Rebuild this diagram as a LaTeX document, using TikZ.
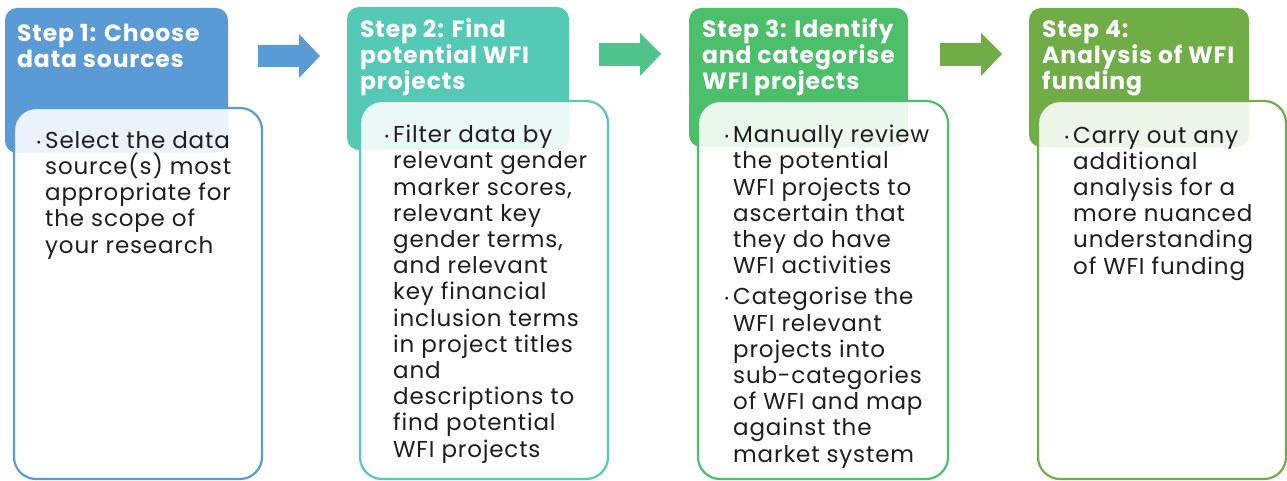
\documentclass[tikz,border=0pt]{standalone}
\usepackage{fontspec}
\setmainfont{Poppins}[LetterSpace=3.6]
\usepackage{tikz}
\definecolor{stepblue}{HTML}{5B9BD5}
\definecolor{stepteal}{HTML}{54C9B6}
\definecolor{stepgreen}{HTML}{4CBF6A}
\definecolor{stepolive}{HTML}{70AD47}
\definecolor{arrowmint}{HTML}{50C48B}
\definecolor{bodyink}{HTML}{1E1E1E}
\newcommand{\bul}{\llap{\raisebox{-2pt}{·}\hspace{4pt}}}

\begin{document}
\begin{tikzpicture}[x=1pt,y=-1pt,
	head/.style={rounded corners=12pt},
	card/.style={rounded corners=22pt, line width=2.2pt, fill=white, fill opacity=0.88},
	title/.style={anchor=base west, align=left, inner sep=0pt, text=white, font=\bfseries\fontsize{23.5}{26}\selectfont},
	body/.style={anchor=base west, align=left, inner sep=0pt, text=bodyink, font=\fontsize{23}{26.2}\selectfont}]
		\useasboundingbox (0,0) rectangle (1287,481);

		\fill[head, stepblue] (5,8) rectangle (228,153);
		\fill[head, stepteal] (347,7) rectangle (569,150);
		\fill[head, stepgreen] (689,8) rectangle (908,147);
		\fill[head, stepolive] (1029,8) rectangle (1249,147);

		\fill[stepblue] (258,45)--(299,45)--(299,34)--(320,56)--(299,78)--(299,67)--(258,67)--cycle;
		\fill[arrowmint] (599,43)--(640,43)--(640,33)--(661,54)--(640,76)--(640,66)--(599,66)--cycle;
		\fill[stepolive] (940,43)--(981,43)--(981,33)--(1002,54)--(981,76)--(981,66)--(940,66)--cycle;

		% base anchor sits on the last line
		\node (title1) [title] at (17,68) {Step 1: Choose\\data sources};
		\node (title2) [title] at (360,90) {Step 2: Find\\potential WFI\\projects};
		\node (title3) [title] at (702,90) {Step 3: Identify\\and categorise\\WFI projects};
		\node (title4) [title] at (1042,90) {Step 4:\\Analysis of WFI\\funding};

		\draw[card, draw=stepblue] (14,108) rectangle (262,479);
		\draw[card, draw=stepteal] (360,101) rectangle (608,479);
		\draw[card, draw=stepgreen] (698,101) rectangle (948,479);
		\draw[card, draw=stepolive] (1038,101) rectangle (1286,479);

		\node (text1) [body] at (45,253) {\bul Select the data\\source(s) most\\appropriate for\\the scope of\\your research};
		\node (text2) [body] at (393,457) {\bul Filter data by\\relevant gender\\marker scores,\\relevant key\\gender terms,\\and relevant\\key financial\\inclusion terms\\in project titles\\and\\descriptions to\\find potential\\WFI projects};
		\node (text3) [body] at (733,462) {\bul Manually review\\the potential\\WFI projects to\\ascertain that\\they do have\\WFI activities\\[5pt]\bul Categorise the\\WFI relevant\\projects into\\sub-categories\\of WFI and map\\against the\\market system};
		\node (text4) [body] at (1073,274) {\bul Carry out any\\additional\\analysis for a\\more nuanced\\understanding\\of WFI funding};
	\end{tikzpicture}
\end{document}
